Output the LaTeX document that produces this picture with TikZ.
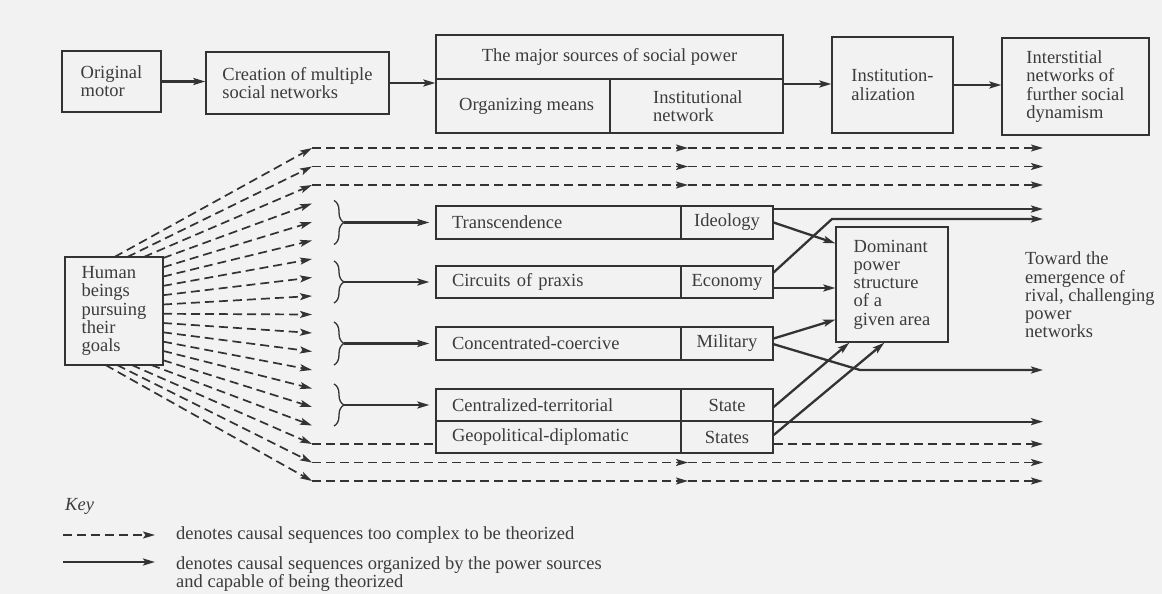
\documentclass[tikz,border=0pt]{standalone}
\usepackage{fontspec}
\setmainfont{Liberation Serif}
\usetikzlibrary{arrows.meta,decorations.pathreplacing,calc}
\definecolor{ink}{HTML}{333333}
\definecolor{txt}{HTML}{3C3C3C}
\definecolor{bg}{HTML}{F2F2F2}
\begin{document}
\begin{tikzpicture}[x=1pt,y=-1pt,
 every node/.style={text=txt,font=\fontsize{18.5}{18.2}\selectfont},
 box/.style={draw=ink,line width=1.3pt,inner xsep=0pt,inner ysep=0pt,align=left},
 cellL/.style={box,minimum height=#1,text width=213pt,inner xsep=16pt},
 cellR/.style={box,minimum height=#1,minimum width=92pt,align=center},
 ar/.style={-{Stealth[length=12pt,width=7pt,inset=2.5pt]}},
 sline/.style={draw=ink,line width=2.3pt},
 dline/.style={draw=ink,line width=1.7pt,dash pattern=on 9pt off 5pt},
 brc/.style={draw=ink,line width=1.3pt,decorate,decoration={brace,amplitude=10pt}},
 lbl/.style={align=left,inner sep=0pt,anchor=west},
]
\fill[bg] (0,0) rectangle (1162,594);
\useasboundingbox (0,0) rectangle (1162,594);

% top row
\node[box,minimum width=99pt,minimum height=61pt] (motor) at (111.5,81.5) {Original\\motor};
\node[box,minimum width=183pt,minimum height=62pt] (creation) at (297.5,83) {Creation of multiple\\social networks};
\node[box,minimum width=347pt,minimum height=98pt] (major) at (609.5,84) {};
\draw[ink,line width=1.3pt] (436,79) -- (783,79) (610,79) -- (610,133);
\node (majt) at (609.5,57) {The major sources of social power};
\node[lbl] (orgm) at (459,106) {Organizing means};
\node[lbl] (instn) at (653,106) {Institutional\\network};
\node[box,minimum width=121pt,minimum height=96pt] (inst) at (892.5,85) {Institution-\\alization};
\node[box,minimum width=147pt,minimum height=97pt] (inter) at (1075.5,86.5) {Interstitial\\networks of\\further social\\dynamism};

\draw[sline,ar] (motor.east) -- (motor.east -| creation.west);
\draw[sline,ar] (creation.east) -- (creation.east -| major.west);
\draw[sline,ar] (major.east) -- (major.east -| inst.west);
\draw[sline,ar] (inst.east) -- (inst.east -| inter.west);

% human
\node[box,minimum width=98pt,minimum height=108pt] (human) at (114,311) {Human\\beings\\pursuing\\their\\goals};

% source rows
\node[cellL=33pt] (trans) at (558.5,222.5) {Transcendence};
\node[cellR=33pt] (ideo) at (727,222.5) {Ideology};
\node[cellL=32pt] (circ) at (558.5,282) {Circuits of praxis};
\node[cellR=32pt] (econ) at (727,282) {Economy};
\node[cellL=33pt] (conc) at (558.5,343.5) {Concentrated-coercive};
\node[cellR=33pt] (mil) at (727,343.5) {Military};
\node[cellL=32pt] (cent) at (558.5,405) {Centralized-territorial};
\node[cellR=32pt] (state) at (727,405) {State};
\node[cellL=32pt] (geo) at (558.5,437) {Geopolitical-diplomatic};
\node[cellR=32pt] (states) at (727,437) {States};

% dominant
\node[box,minimum width=112pt,minimum height=115pt] (dom) at (892,284.5) {Dominant\\power\\structure\\of a\\given area};
\node[lbl] (toward) at (1025,295) {Toward the\\emergence of\\rival, challenging\\power\\networks};

% fan of dashed arrows
\foreach \k/\sx/\sy in {0/114.5/257, 1/127.3/257, 2/143.8/257, 3/163/258.1,
  4/163/267.3, 5/163/276.6, 6/163/285.9, 7/163/295.2, 8/163/304.5,
  9/163/313.8, 10/163/323.0, 11/163/332.3, 12/163/341.6, 13/163/350.9,
  14/163/360.2, 15/151.2/365, 16/131.7/365, 17/117/365, 18/105.5/365}{
  \coordinate (s\k) at (\sx,\sy);
  \coordinate (t\k) at (312,{148+18.5*\k});
  \draw[dline,ar] (s\k) -- (t\k);
}
\foreach \k in {0,1,2,17,18}{
  \coordinate (m\k) at (688,{148+18.5*\k});
  \coordinate (e\k) at (1043,{148+18.5*\k});
  \draw[dline,ar] (t\k) -- (m\k);
  \draw[dline,ar] (m\k) -- (e\k);
}
\draw[dline] (t16) -- (t16 -| geo.west);
\coordinate (e16) at (1043,444);
\draw[dline,ar] (t16 -| states.east) -- (e16);

% braces
\draw[brc] (334,200.5) -- (334,244.5);
\draw[brc] (334,261) -- (334,303);
\draw[brc] (334,322) -- (334,365);
\draw[brc] (334,384) -- (334,426);
\coordinate (b1) at (344,222.5);
\coordinate (b2) at (344,282);
\coordinate (b3) at (344,343.5);
\coordinate (b4) at (344,405);
\draw[sline,ar,shorten >=6pt] (b1) -- (b1 -| trans.west);
\draw[sline,ar,shorten >=6pt] (b2) -- (b2 -| circ.west);
\draw[sline,ar,shorten >=6pt] (b3) -- (b3 -| conc.west);
\draw[sline,ar,shorten >=6pt] (b4) -- (b4 -| cent.west);

% right side connectors
\coordinate (i1) at (773,209); \coordinate (ie) at (1043,209);
\draw[sline,ar] (i1) -- (ie);
\coordinate (ec1) at (773,273); \coordinate (ec2) at (832,219); \coordinate (ece) at (1043,219);
\draw[sline,ar] (ec1) -- (ec2) -- (ece);
\draw[sline,ar] (ideo.east) -- ($(dom.north west)+(0,17)$);
\coordinate (ec3) at (773,288);
\draw[sline,ar] (ec3) -- (ec3 -| dom.west);
\draw[sline,ar] ($(mil.east)+(0,-5)$) -- ($(dom.south west)+(0,-23)$);
\coordinate (mi1) at (773,344); \coordinate (mi2) at (860,370); \coordinate (mie) at (1043,370);
\draw[sline,ar] (mi1) -- (mi2) -- (mie);
\draw[sline,ar] ($(state.east)+(0,2)$) -- ($(dom.south west)+(14,0)$);
\draw[sline,ar] ($(states.east)+(0,-2)$) -- ($(dom.south west)+(49,0)$);
\draw[sline,ar] (state.south east) -- (state.south east -| mie);

% key
\node[lbl,font=\fontsize{18.5}{18.2}\selectfont\itshape] (key) at (65,506) {Key};
\coordinate (k1a) at (63,535); \coordinate (k1b) at (155,535);
\draw[dline,ar] (k1a) -- (k1b);
\node[lbl] (k1t) at (176,535) {denotes causal sequences too complex to be theorized};
\coordinate (k2a) at (63,562); \coordinate (k2b) at (155,562);
\draw[sline,ar] (k2a) -- (k2b);
\node[lbl] (k2t) at (176,574) {denotes causal sequences organized by the power sources\\and capable of being theorized};
\end{tikzpicture}
\end{document}
